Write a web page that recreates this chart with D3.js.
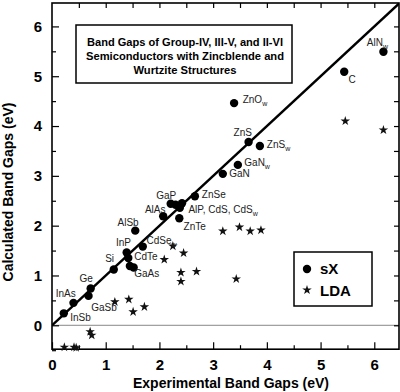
<!DOCTYPE html>
<html>
<head>
<meta charset="utf-8">
<script src="https://cdn.jsdelivr.net/npm/d3@7"></script>
<style>
  body { margin: 0; background: #fff; }
  svg text { font-family: "Liberation Sans", Arial, sans-serif; }
</style>
</head>
<body>
<div id="plot"></div>
<script>
// data (eV)
var sxExp  = [0.22, 0.40, 0.68, 0.72, 1.15, 1.39, 1.42, 1.45, 1.52, 1.69, 1.55, 2.07, 2.21, 2.30, 2.38, 2.42, 2.37, 2.66, 3.18, 3.46, 3.66, 3.87, 3.39, 5.44, 6.17];
var sxCalc = [0.24, 0.45, 0.59, 0.74, 1.12, 1.46, 1.35, 1.19, 1.16, 1.58, 1.90, 2.19, 2.44, 2.42, 2.36, 2.45, 2.15, 2.59, 3.04, 3.22, 3.68, 3.60, 4.46, 5.09, 5.49];

var ldaExp  = [5.46, 6.17, 3.18, 3.49, 3.69, 3.89, 3.43, 2.25, 2.45, 2.09, 2.40, 2.69, 2.40, 1.17, 1.43, 1.51, 1.72, 0.71, 0.74, 0.23, 0.41, 0.45];
var ldaCalc = [4.10, 3.92, 1.89, 1.97, 1.89, 1.91, 0.93, 1.59, 1.45, 1.32, 1.06, 1.08, 0.88, 0.47, 0.52, 0.27, 0.37, -0.13, -0.20, -0.44, -0.44, -0.45];

// material labels (anchor in eV units), subscript part separate
var labelText = ["InSb", "InAs", "Ge", "GaSb", "Si", "InP", "CdTe", "GaAs", "CdSe", "AlSb", "AlAs", "GaP", "ZnSe", "AlP, CdS, CdS", "ZnTe", "GaN", "GaN", "ZnS", "ZnS", "ZnO", "C", "AlN"];
var labelSub  = ["", "", "", "", "", "", "", "", "w", "", "", "", "", "w", "", "", "w", "", "w", "w", "", "w"];
var labelX = [0.34, 0.07, 0.51, 0.73, 0.99, 1.19, 1.53, 1.53, 1.76, 1.22, 1.73, 1.94, 2.79, 2.54, 2.45, 3.30, 3.58, 3.38, 4.00, 3.55, 5.52, 5.86];
var labelY = [0.09, 0.57, 0.86, 0.29, 1.28, 1.59, 1.31, 0.96, 1.63, 1.99, 2.26, 2.54, 2.55, 2.25, 1.91, 2.98, 3.20, 3.79, 3.55, 4.46, 4.86, 5.61];

var majorTicks = [0, 1, 2, 3, 4, 5, 6];
var halfTicks = d3.range(0, 6.5, 0.5);
var halfTicksY = d3.range(-0.5, 6.5, 0.5);

var titleLines = ["Band Gaps of Group-IV, III-V, and II-VI", "Semiconductors with Zincblende and", "Wurtzite Structures"];
var legendNames = ["sX", "LDA"];

var width = 400, height = 392;

var svg = d3.select("#plot").append("svg")
    .attr("width", width)
    .attr("height", height);

var x = d3.scaleLinear().domain([0, 6.46]).range([52, 399]);
var y = d3.scaleLinear().domain([-0.48, 6.47]).range([349.2, 3]);

// zero line
svg.append("line")
    .attr("x1", x(0)).attr("x2", x(6.46))
    .attr("y1", y(0)).attr("y2", y(0))
    .attr("stroke", "#888").attr("stroke-width", 1);

// axes: bottom major + minor
function styleAxis(g) {
    g.select(".domain").remove();
    g.selectAll(".tick line").attr("stroke", "#000").attr("stroke-width", 1.2);
}
svg.append("g").attr("transform", "translate(0," + y(-0.48) + ")")
    .call(d3.axisBottom(x).tickValues(majorTicks).tickSize(-7).tickPadding(10).tickFormat(d3.format("d")))
    .call(styleAxis)
    .selectAll("text").attr("font-size", 15).attr("font-weight", "bold").attr("fill", "#000")
    .attr("dy", "0.71em");
svg.append("g").attr("transform", "translate(0," + y(-0.48) + ")")
    .call(d3.axisBottom(x).tickValues(halfTicks.filter(function(d){ return d % 1 !== 0; })).tickSize(-4).tickFormat(""))
    .call(styleAxis);
// left
svg.append("g").attr("transform", "translate(" + x(0) + ",0)")
    .call(d3.axisLeft(y).tickValues(majorTicks).tickSize(-7).tickPadding(10).tickFormat(d3.format("d")))
    .call(styleAxis)
    .selectAll("text").attr("font-size", 15).attr("font-weight", "bold").attr("fill", "#000");
svg.append("g").attr("transform", "translate(" + x(0) + ",0)")
    .call(d3.axisLeft(y).tickValues(halfTicksY.filter(function(d){ return d % 1 !== 0; })).tickSize(-4).tickFormat(""))
    .call(styleAxis);
// top and right
svg.append("g").attr("transform", "translate(0," + y(6.47) + ")")
    .call(d3.axisTop(x).tickValues(halfTicks.slice(1)).tickSize(-5).tickFormat(""))
    .call(styleAxis);
svg.append("g").attr("transform", "translate(" + x(6.46) + ",0)")
    .call(d3.axisRight(y).tickValues(halfTicksY.slice(1)).tickSize(-5).tickFormat(""))
    .call(styleAxis);

// frame
svg.append("rect")
    .attr("x", x(0)).attr("y", y(6.47))
    .attr("width", x(6.46) - x(0)).attr("height", y(-0.48) - y(6.47))
    .attr("fill", "none").attr("stroke", "#000").attr("stroke-width", 1.6);

// y = x line, clipped to plot area
svg.append("clipPath").attr("id", "clip").append("rect")
    .attr("x", x(0)).attr("y", y(6.47))
    .attr("width", x(6.46) - x(0)).attr("height", y(-0.48) - y(6.47));
svg.append("line")
    .attr("clip-path", "url(#clip)")
    .attr("x1", x(0)).attr("y1", y(0))
    .attr("x2", x(6.6)).attr("y2", y(6.6))
    .attr("stroke", "#000").attr("stroke-width", 2.4);

// title box
var tb = svg.append("g");
tb.append("rect").attr("x", 76).attr("y", 25).attr("width", 216).attr("height", 58)
    .attr("fill", "#fff").attr("stroke", "#000").attr("stroke-width", 1.5);
var titleWidths = [196, 198, 103];
tb.selectAll("text").data(titleLines).enter().append("text")
    .attr("x", 185).attr("y", function(d, i) { return 46 + i * 14; })
    .attr("text-anchor", "middle")
    .attr("font-size", 10).attr("font-weight", "bold")
    .attr("textLength", function(d, i) { return titleWidths[i]; })
    .attr("lengthAdjust", "spacingAndGlyphs")
    .text(function(d) { return d; });

// LDA stars
var star = d3.symbol().type(d3.symbolStar).size(28);
svg.append("g").selectAll("path").data(ldaExp).enter().append("path")
    .attr("transform", function(d, i) { return "translate(" + x(d) + "," + y(ldaCalc[i]) + ")"; })
    .attr("d", star).attr("fill", "#111");

// sX circles
svg.append("g").selectAll("circle").data(sxExp).enter().append("circle")
    .attr("cx", function(d) { return x(d); })
    .attr("cy", function(d, i) { return y(sxCalc[i]); })
    .attr("r", 4.2).attr("fill", "#000");

// material labels
var lab = svg.append("g").selectAll("text").data(labelText).enter().append("text")
    .attr("x", function(d, i) { return x(labelX[i]); })
    .attr("y", function(d, i) { return y(labelY[i]); })
    .attr("font-size", 10).attr("fill", "#222");
lab.append("tspan").text(function(d) { return d; });
lab.append("tspan").attr("font-size", 7).attr("dy", 3)
    .text(function(d, i) { return labelSub[i]; });

// legend
var lg = svg.append("g");
lg.append("rect").attr("x", 294).attr("y", 252).attr("width", 78).attr("height", 54)
    .attr("fill", "#fff").attr("stroke", "#000").attr("stroke-width", 1.5);
lg.append("circle").attr("cx", 307).attr("cy", 269).attr("r", 4.2).attr("fill", "#000");
lg.append("path").attr("transform", "translate(307,290)").attr("d", star).attr("fill", "#111");
lg.selectAll("text").data(legendNames).enter().append("text")
    .attr("x", 320).attr("y", function(d, i) { return 274 + i * 22; })
    .attr("font-size", 15).attr("font-weight", "bold")
    .text(function(d) { return d; });

// axis titles
svg.append("text").attr("x", 231).attr("y", 388)
    .attr("text-anchor", "middle").attr("font-size", 14).attr("font-weight", "bold")
    .text("Experimental Band Gaps (eV)");
svg.append("text").attr("transform", "translate(13,192) rotate(-90)")
    .attr("text-anchor", "middle").attr("font-size", 14).attr("font-weight", "bold")
    .text("Calculated Band Gaps (eV)");
</script>
</body>
</html>
